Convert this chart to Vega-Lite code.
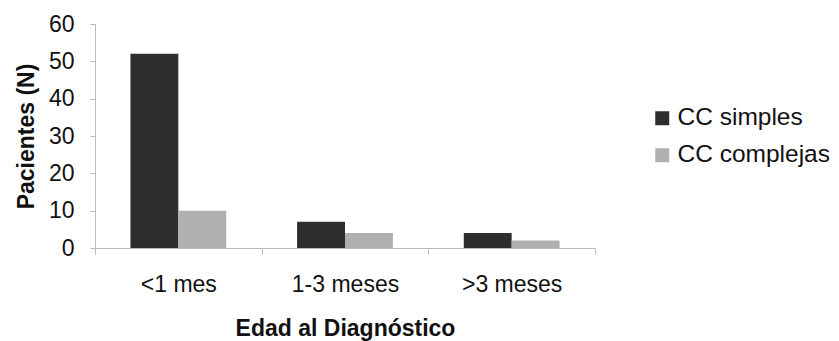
{
  "$schema": "https://vega.github.io/schema/vega-lite/v6.json",
  "autosize": "none",
  "width": 500,
  "height": 224,
  "padding": {"left": 95, "top": 24, "right": 244, "bottom": 93},
  "background": "white",
  "config": {
    "font": "Liberation Sans",
    "view": {"stroke": null},
    "axis": {"grid": false, "domainColor": "#bbbbbb", "tickColor": "#bbbbbb", "labelColor": "#111111", "titleColor": "#111111"}
  },
  "data": {
    "values": [
      {"edad": "<1 mes", "tipo": "CC simples", "n": 52},
      {"edad": "<1 mes", "tipo": "CC complejas", "n": 10},
      {"edad": "1-3 meses", "tipo": "CC simples", "n": 7},
      {"edad": "1-3 meses", "tipo": "CC complejas", "n": 4},
      {"edad": ">3 meses", "tipo": "CC simples", "n": 4},
      {"edad": ">3 meses", "tipo": "CC complejas", "n": 2}
    ]
  },
  "mark": {"type": "bar"},
  "encoding": {
    "x": {
      "field": "edad", "type": "nominal", "sort": ["<1 mes", "1-3 meses", ">3 meses"],
      "scale": {"paddingInner": 0, "paddingOuter": 0},
      "axis": {"title": "Edad al Diagnóstico", "labelAngle": 0, "labelFontSize": 23, "labelPadding": 19, "titleFontSize": 23, "titleFontWeight": "bold", "titlePadding": 21, "tickBand": "extent", "tickSize": 6}
    },
    "xOffset": {
      "field": "tipo", "type": "nominal", "sort": ["CC simples", "CC complejas"],
      "scale": {"paddingInner": 0, "paddingOuter": 0.74}
    },
    "y": {
      "field": "n", "type": "quantitative",
      "scale": {"domain": [0, 60]},
      "axis": {"title": "Pacientes (N)", "values": [0, 10, 20, 30, 40, 50, 60], "labelFontSize": 23, "labelPadding": 16, "tickSize": 5, "titleFontSize": 23, "titleFontWeight": "bold", "titlePadding": 10}
    },
    "color": {
      "field": "tipo", "type": "nominal", "sort": ["CC simples", "CC complejas"],
      "scale": {"range": ["#2e2e2e", "#b0b0b0"]},
      "legend": {"title": null, "orient": "none", "legendX": 555, "legendY": 82, "symbolType": "square", "symbolSize": 196, "labelFontSize": 24.5, "labelColor": "#111111", "labelOffset": 3, "rowPadding": 12, "symbolStrokeWidth": 0}
    }
  }
}
